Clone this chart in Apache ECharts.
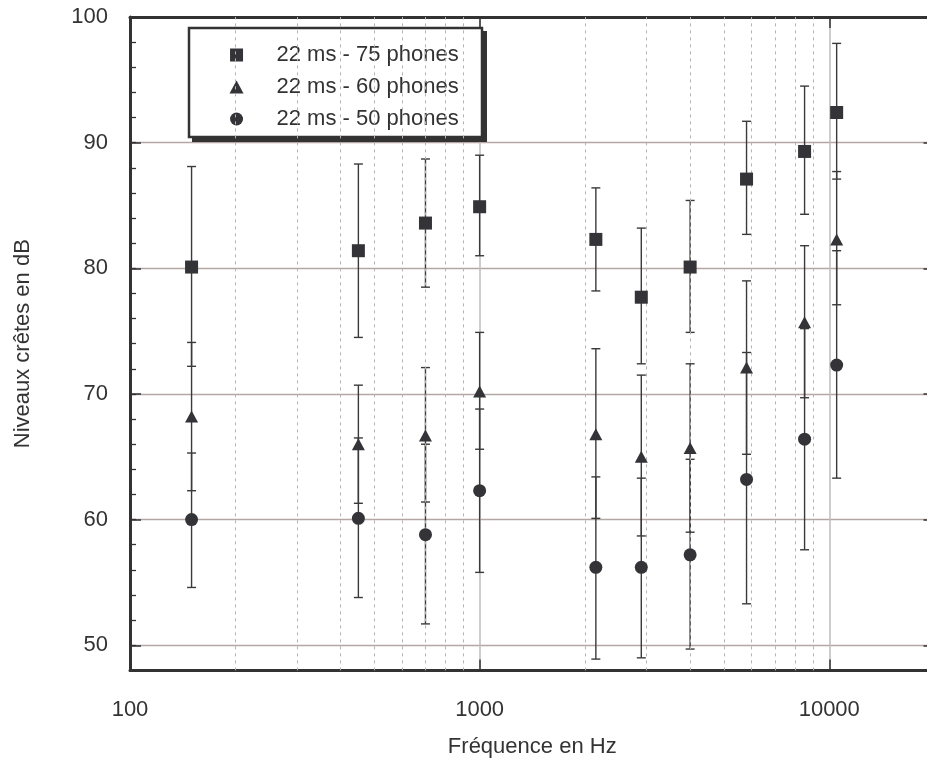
<!DOCTYPE html>
<html>
<head>
<meta charset="utf-8">
<script src="https://cdn.jsdelivr.net/npm/echarts@6/dist/echarts.min.js"></script>
<style>
  html, body { margin: 0; padding: 0; background: #fff; }
  #main { width: 927px; height: 762px; }
</style>
</head>
<body>
<div id="main"></div>
<script>
// Centre frequencies (Hz) of the measured bands
const freqs = [150, 450, 700, 1000, 2150, 2900, 4000, 5800, 8500, 10500];

// 22 ms - 75 phones: peak level and spread
const lvl75  = [80.1, 81.4, 83.6, 84.9, 82.3, 77.7, 80.1, 87.1, 89.3, 92.4];
const low75  = [72.2, 74.5, 78.5, 81.0, 78.2, 72.4, 74.9, 82.7, 84.3, 87.1];
const high75 = [88.1, 88.3, 88.7, 89.0, 86.4, 83.2, 85.4, 91.7, 94.5, 97.9];

// 22 ms - 60 phones
const lvl60  = [68.2, 66.0, 66.7, 70.2, 66.8, 65.0, 65.7, 72.1, 75.7, 82.3];
const low60  = [62.3, 61.3, 61.4, 65.6, 60.1, 58.7, 59.0, 65.2, 69.7, 77.1];
const high60 = [74.1, 70.7, 72.1, 74.9, 73.6, 71.5, 72.4, 79.0, 81.8, 87.7];

// 22 ms - 50 phones
const lvl50  = [60.0, 60.1, 58.8, 62.3, 56.2, 56.2, 57.2, 63.2, 66.4, 72.3];
const low50  = [54.6, 53.8, 51.7, 55.8, 48.9, 49.0, 49.7, 53.3, 57.6, 63.3];
const high50 = [65.3, 66.5, 66.0, 68.8, 63.4, 63.3, 64.8, 73.3, 75.2, 81.4];

const seriesNames = ['22 ms - 75 phones', '22 ms - 60 phones', '22 ms - 50 phones'];

// Axis ticks
const xTickLabels = [100, 1000, 10000];
const xMinorGrid = [200, 300, 400, 500, 600, 700, 800, 900,
                    2000, 3000, 4000, 5000, 6000, 7000, 8000, 9000];
const yMin = 48, yMax = 100;

const FONT = 'Liberation Sans, Arial, Helvetica, sans-serif';
const INK = '#333338';
const TEXT = '#333333';

// Legend glyphs kept square inside the wide legend item box
const ICON_SQUARE = 'path://M0,0H13V13H0Z';
const ICON_TRIANGLE = 'path://M0,12L6.5,0L13,12Z';

const gridRect = { left: 130, top: 17, right: -7.5, bottom: 91.6 };

function points(vals) {
  return freqs.map((f, i) => [f, vals[i]]);
}
function bars(lo, hi) {
  return freqs.map((f, i) => [f, lo[i], hi[i]]);
}

function renderErrorBar(params, api) {
  const x = api.value(0);
  const p1 = api.coord([x, api.value(1)]);
  const p2 = api.coord([x, api.value(2)]);
  const hw = 4.5;
  const style = { stroke: '#3a3a3a', lineWidth: 1.4 };
  return {
    type: 'group',
    children: [
      { type: 'line', shape: { x1: p1[0], y1: p1[1], x2: p2[0], y2: p2[1] }, style: style },
      { type: 'line', shape: { x1: p1[0] - hw, y1: p1[1], x2: p1[0] + hw, y2: p1[1] }, style: style },
      { type: 'line', shape: { x1: p2[0] - hw, y1: p2[1], x2: p2[0] + hw, y2: p2[1] }, style: style }
    ]
  };
}

function errorSeries(lo, hi) {
  return {
    type: 'custom',
    xAxisIndex: 0, yAxisIndex: 0,
    renderItem: renderErrorBar,
    encode: { x: 0, y: [1, 2] },
    data: bars(lo, hi),
    z: 3,
    silent: true
  };
}

function markerSeries(name, symbol, size, vals) {
  return {
    name: name,
    type: 'scatter',
    xAxisIndex: 0, yAxisIndex: 0,
    symbol: symbol,
    symbolSize: size,
    itemStyle: { color: INK, opacity: 1 },
    data: points(vals),
    z: 5,
    silent: true
  };
}

const chart = echarts.init(document.getElementById('main'), null, { renderer: 'canvas' });

chart.setOption({
  animation: false,
  backgroundColor: '#ffffff',
  textStyle: { fontFamily: FONT },
  grid: [
    Object.assign({ outerBoundsMode: 'none', containLabel: false }, gridRect),
    Object.assign({ outerBoundsMode: 'none', containLabel: false }, gridRect)
  ],
  // legend frame with its solid drop shadow
  graphic: [
    { type: 'rect', z: 3, silent: true,
      shape: { x: 192, y: 31, width: 295, height: 111 },
      style: { fill: '#333333' } },
    { type: 'rect', z: 3, silent: true,
      shape: { x: 189, y: 28, width: 293, height: 109 },
      style: { fill: '#ffffff', stroke: '#333333', lineWidth: 2.5 } }
  ],
  legend: {
    orient: 'vertical',
    // the legend is placed by the bounding box of its glyphs (centred in a 70px slot)
    left: 229.5, top: 44,
    padding: 0,
    itemWidth: 70, itemHeight: 13, itemGap: 10,
    symbolKeepAspect: true,
    selectedMode: false,
    textStyle: { fontSize: 22, color: TEXT, fontFamily: FONT, lineHeight: 22 },
    data: [
      { name: seriesNames[0], icon: ICON_SQUARE },
      { name: seriesNames[1], icon: ICON_TRIANGLE },
      { name: seriesNames[2], icon: 'circle' }
    ]
  },
  xAxis: [
    {
      gridIndex: 0, type: 'log', logBase: 10, min: 100, max: 20000, position: 'bottom',
      name: 'Fréquence en Hz', nameLocation: 'middle', nameGap: 66,
      nameTextStyle: { fontSize: 22, color: TEXT, fontFamily: FONT },
      axisLine: { show: true, onZero: false, lineStyle: { color: '#333333', width: 3 } },
      axisTick: { show: true, inside: true, length: 11, lineStyle: { color: '#333333', width: 1.5 } },
      axisLabel: {
        margin: 29, fontSize: 22, color: TEXT, fontFamily: FONT,
        formatter: function (v) {
          const r = Math.round(v);
          return xTickLabels.indexOf(r) >= 0 ? String(r) : '';
        }
      },
      splitLine: { show: true, showMinLine: false, showMaxLine: false,
                   lineStyle: { color: '#c2bbbb', width: 1.5 } }
    },
    {
      gridIndex: 0, type: 'log', logBase: 10, min: 100, max: 20000, position: 'top',
      axisLine: { show: true, onZero: false, lineStyle: { color: '#333333', width: 3 } },
      axisTick: { show: true, inside: true, length: 11, lineStyle: { color: '#333333', width: 1.5 } },
      axisLabel: { show: false },
      splitLine: { show: false }
    },
    {
      gridIndex: 1, type: 'value', min: 0, max: 1, show: false
    }
  ],
  yAxis: [
    {
      gridIndex: 0, type: 'value', min: yMin, max: yMax, minInterval: 10, maxInterval: 10,
      position: 'left',
      name: 'Niveaux crêtes en dB', nameLocation: 'middle', nameGap: 96,
      nameTextStyle: { fontSize: 22, color: TEXT, fontFamily: FONT },
      axisLine: { show: true, onZero: false, lineStyle: { color: '#333333', width: 3 } },
      axisTick: { show: true, inside: true, length: 11, lineStyle: { color: '#333333', width: 1.5 } },
      axisLabel: { margin: 22, fontSize: 22, color: TEXT, fontFamily: FONT, showMinLabel: false },
      splitLine: { show: true, showMinLine: false, showMaxLine: false,
                   lineStyle: { color: '#b3a7a3', width: 1.3 } }
    },
    {
      gridIndex: 0, type: 'value', min: yMin, max: yMax, minInterval: 10, maxInterval: 10,
      position: 'right',
      axisLine: { show: true, onZero: false, lineStyle: { color: '#333333', width: 3 } },
      axisTick: { show: true, inside: true, length: 11, lineStyle: { color: '#333333', width: 1.5 } },
      axisLabel: { show: false },
      splitLine: { show: false }
    },
    {
      // minor ticks every 2 dB along the left edge
      gridIndex: 1, type: 'value', min: yMin, max: yMax, interval: 2,
      position: 'left',
      axisLine: { show: false },
      axisTick: { show: true, inside: true, length: 6, lineStyle: { color: '#333333', width: 1.3 } },
      axisLabel: { show: false },
      splitLine: { show: false }
    }
  ],
  series: [
    {
      // dashed vertical lines at the intermediate frequencies
      type: 'scatter', xAxisIndex: 0, yAxisIndex: 0, data: [], z: 1, silent: true,
      markLine: {
        silent: true, animation: false,
        symbol: ['none', 'none'],
        label: { show: false },
        lineStyle: { color: '#b9b0b0', width: 1, type: [3, 4] },
        data: xMinorGrid.map(function (v) { return { xAxis: v }; })
      }
    },
    errorSeries(low75, high75),
    errorSeries(low60, high60),
    errorSeries(low50, high50),
    markerSeries(seriesNames[0], 'rect', 13, lvl75),
    markerSeries(seriesNames[1], 'triangle', [13, 12], lvl60),
    markerSeries(seriesNames[2], 'circle', 13, lvl50)
  ]
});
</script>
</body>
</html>
